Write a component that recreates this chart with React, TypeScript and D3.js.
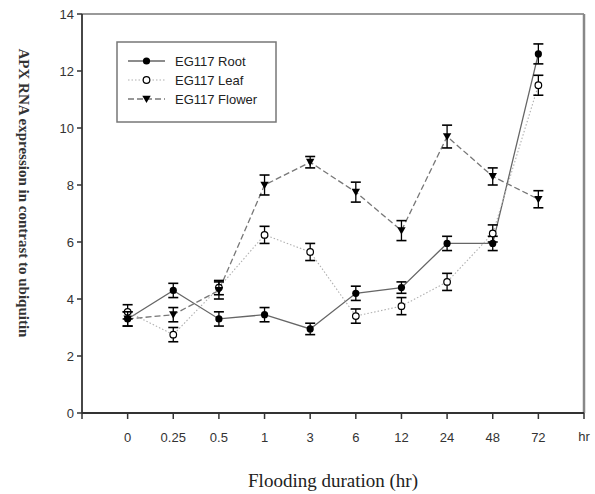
import React from 'react';
import * as d3 from 'd3';

const timeLabels = ['0', '0.25', '0.5', '1', '3', '6', '12', '24', '48', '72'];
const rootValues = [3.3, 4.3, 3.3, 3.45, 2.95, 4.2, 4.4, 5.95, 5.95, 12.6];
const leafValues = [3.55, 2.75, 4.4, 6.25, 5.65, 3.4, 3.75, 4.6, 6.3, 11.5];
const flowerValues = [3.3, 3.45, 4.3, 8.0, 8.8, 7.75, 6.4, 9.7, 8.3, 7.5];
const rootErr = [0.25, 0.25, 0.25, 0.25, 0.2, 0.25, 0.2, 0.25, 0.25, 0.35];
const leafErr = [0.25, 0.25, 0.25, 0.3, 0.3, 0.25, 0.3, 0.3, 0.3, 0.35];
const flowerErr = [0.25, 0.25, 0.3, 0.35, 0.2, 0.35, 0.35, 0.4, 0.3, 0.3];
const yTicks = [0, 2, 4, 6, 8, 10, 12, 14];

const seriesNames = ['EG117 Root', 'EG117 Leaf', 'EG117 Flower'];

const W = 595;
const H = 494;
const left = 82;
const right = 584;
const top = 14;
const bottom = 413;

export default function App() {
  const x = d3.scaleLinear().domain([0, timeLabels.length + 1]).range([left, right]);
  const y = d3.scaleLinear().domain([0, 14]).range([bottom, top]);

  const series = [
    { name: seriesNames[0], values: rootValues, err: rootErr, marker: 'filled', dash: '', color: '#666', width: 1.3 },
    { name: seriesNames[1], values: leafValues, err: leafErr, marker: 'open', dash: '1.5,2', color: '#b0b0b0', width: 1.1 },
    { name: seriesNames[2], values: flowerValues, err: flowerErr, marker: 'tri', dash: '6,3', color: '#777', width: 1.3 },
  ];

  const line = d3.line<number>().x((_, i) => x(i + 1)).y(d => y(d));

  const marker = (type: string, cx: number, cy: number, key: string) => {
    if (type === 'filled') return <circle key={key} cx={cx} cy={cy} r={3.6} fill="#000" />;
    if (type === 'open') return <circle key={key} cx={cx} cy={cy} r={3.3} fill="#fff" stroke="#000" strokeWidth={1.2} />;
    const s = 4.2;
    return <path key={key} d={`M${cx - s},${cy - s * 0.8} L${cx + s},${cy - s * 0.8} L${cx},${cy + s * 0.95} Z`} fill="#000" />;
  };

  const font = 'Arial, "Liberation Sans", sans-serif';
  const serif = '"Times New Roman", "Liberation Serif", serif';

  return (
    <svg width={W} height={H} style={{ position: 'absolute', left: 0, top: 0, background: '#fff' }}>
      {/* frame */}
      <line x1={left} x2={right} y1={top} y2={top} stroke="#777" strokeWidth={1.5} />
      <line x1={right} x2={right} y1={top} y2={bottom} stroke="#888" strokeWidth={2.5} />
      <line x1={left} x2={left} y1={top} y2={bottom} stroke="#333" strokeWidth={1.8} />
      <line x1={left} x2={right} y1={bottom} y2={bottom} stroke="#333" strokeWidth={1.8} />

      {yTicks.map(t => (
        <g key={t}>
          <line x1={left - 5} x2={left} y1={y(t)} y2={y(t)} stroke="#333" strokeWidth={1.5} />
          <text x={left - 8} y={y(t)} dy="0.35em" textAnchor="end" fontSize={13} fontFamily={font} fill="#333">{t}</text>
        </g>
      ))}
      {timeLabels.map((t, i) => (
        <g key={t}>
          <line x1={x(i + 1)} x2={x(i + 1)} y1={bottom} y2={bottom + 6} stroke="#333" strokeWidth={1.5} />
          <text x={x(i + 1)} y={bottom + 29} textAnchor="middle" fontSize={13} fontFamily={font} fill="#333">{t}</text>
        </g>
      ))}
      <line x1={left} x2={left} y1={bottom} y2={bottom + 6} stroke="#333" strokeWidth={1.5} />
      <line x1={right} x2={right} y1={bottom} y2={bottom + 6} stroke="#333" strokeWidth={1.5} />
      <text x={right} y={bottom + 28} textAnchor="middle" fontSize={13} fontFamily={font} fill="#333">hr</text>

      {series.map(s => (
        <path key={s.name} d={line(s.values) || ''} fill="none" stroke={s.color} strokeWidth={s.width} strokeDasharray={s.dash} />
      ))}
      {series.map(s => (
        <g key={s.name + 'm'}>
          {s.values.map((v, i) => {
            const cx = x(i + 1);
            const y1 = y(v + s.err[i]);
            const y2 = y(v - s.err[i]);
            return (
              <g key={i}>
                <line x1={cx} x2={cx} y1={y1} y2={y2} stroke="#000" strokeWidth={1.3} />
                <line x1={cx - 5} x2={cx + 5} y1={y1} y2={y1} stroke="#000" strokeWidth={1.6} />
                <line x1={cx - 5} x2={cx + 5} y1={y2} y2={y2} stroke="#000" strokeWidth={1.6} />
                {marker(s.marker, cx, y(v), 'm' + i)}
              </g>
            );
          })}
        </g>
      ))}

      {/* legend */}
      <rect x={117} y={42} width={159} height={80} fill="#fff" stroke="#777" strokeWidth={1.5} />
      {series.map((s, i) => {
        const ly = 61 + i * 19;
        return (
          <g key={s.name + 'l'}>
            <line x1={128} x2={165} y1={ly} y2={ly} stroke={s.color} strokeWidth={s.width} strokeDasharray={s.dash} />
            {marker(s.marker, 146.5, ly, 'lg')}
            <text x={175} y={ly} dy="0.35em" fontSize={13} fontFamily={font} fill="#222">{s.name}</text>
          </g>
        );
      })}

      <text transform={`translate(19,193) rotate(90)`} textAnchor="middle" fontSize={15} fontWeight="bold" fontFamily={serif} fill="#333">
        APX RNA expression in contrast to ubiquitin
      </text>
      <text x={333} y={487} textAnchor="middle" fontSize={19} fontFamily={serif} fill="#222">Flooding duration (hr)</text>
    </svg>
  );
}
